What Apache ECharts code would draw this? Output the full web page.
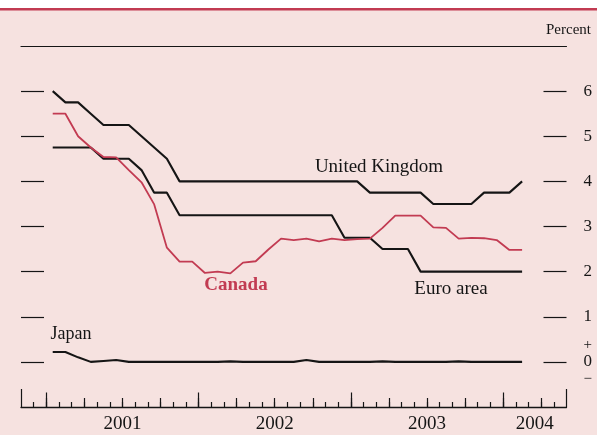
<!DOCTYPE html>
<html>
<head>
<meta charset="utf-8">
<script src="https://cdn.jsdelivr.net/npm/echarts@6/dist/echarts.min.js"></script>
<style>
  html, body { margin: 0; padding: 0; background: #f6e2e0; }
  #chart { width: 597px; height: 435px; }
</style>
</head>
<body>
<div id="chart"></div>
<script>
// Official policy rates, monthly, January 2001 – February 2004 (percent)
const firstMonth = '2001-01';
const ukRate = [
  6.0, 5.75, 5.75, 5.5, 5.25, 5.25, 5.25, 5.0, 4.75, 4.5, 4.0, 4.0,
  4.0, 4.0, 4.0, 4.0, 4.0, 4.0, 4.0, 4.0, 4.0, 4.0, 4.0, 4.0,
  4.0, 3.75, 3.75, 3.75, 3.75, 3.75, 3.5, 3.5, 3.5, 3.5, 3.75, 3.75,
  3.75, 4.0
];
const euroRate = [
  4.75, 4.75, 4.75, 4.75, 4.5, 4.5, 4.5, 4.25, 3.75, 3.75, 3.25, 3.25,
  3.25, 3.25, 3.25, 3.25, 3.25, 3.25, 3.25, 3.25, 3.25, 3.25, 3.25, 2.75,
  2.75, 2.75, 2.5, 2.5, 2.5, 2.0, 2.0, 2.0, 2.0, 2.0, 2.0, 2.0,
  2.0, 2.0
];
const canadaRate = [
  5.5, 5.5, 5.0, 4.75, 4.54, 4.53, 4.25, 3.98, 3.49, 2.53, 2.22, 2.22,
  1.97, 2.0, 1.96, 2.2, 2.23, 2.49, 2.73, 2.7, 2.73, 2.67, 2.73, 2.7,
  2.72, 2.73, 2.97, 3.24, 3.24, 3.24, 2.98, 2.97, 2.73, 2.75, 2.74, 2.7,
  2.48, 2.48
];
const japanRate = [
  0.22, 0.22, 0.1, 0.0, 0.02, 0.04, 0.0, 0.0, 0.0, 0.0, 0.0, 0.0,
  0.0, 0.0, 0.01, 0.0, 0.0, 0.0, 0.0, 0.0, 0.04, 0.0, 0.0, 0.0,
  0.0, 0.0, 0.01, 0.0, 0.0, 0.0, 0.0, 0.0, 0.01, 0.0, 0.0, 0.0,
  0.0, 0.0
];

// Axis layout in months counted from January 2001 (Nov 2000 .. end of May 2004)
const axisStart = -2;
const axisEnd = 41;
const yearLabels = ['2001', '2002', '2003', '2004'];
const yearLabelAt = [6, 18, 30, 38.5];
const yearStarts = [0, 12, 24, 36];
const percentTicks = [0, 1, 2, 3, 4, 5, 6];

const monthTicks = [];
for (let m = axisStart + 1; m < axisEnd; m++) monthTicks.push(m);
const quarterTicks = monthTicks.filter(m => ((m % 3) + 3) % 3 === 0);

// Points sit at the middle of each month
const toPoints = arr => arr.map((v, i) => [i + 0.5, v]);

const serif = '"Liberation Serif", "DejaVu Serif", serif';
const ink = '#151515';
const red = '#c23b52';

function tickAxis(values, len, withLine, labels) {
  return {
    type: 'value', position: 'bottom', min: axisStart, max: axisEnd,
    axisLine: { show: withLine, onZero: false, lineStyle: { color: ink, width: 1.3 } },
    axisTick: { show: true, inside: true, length: len, customValues: values,
                lineStyle: { color: ink, width: 1.2 } },
    axisLabel: labels ? {
      show: true, customValues: yearLabelAt, margin: 8,
      color: ink, fontFamily: serif, fontSize: 19,
      formatter: v => yearLabels[yearLabelAt.indexOf(v)]
    } : { show: false },
    splitLine: { show: false }
  };
}

const chart = echarts.init(document.getElementById('chart'));
chart.setOption({
  backgroundColor: '#f6e2e0',
  animation: false,
  grid: { left: 21, right: 30.5, top: 46, bottom: 28, containLabel: false },
  xAxis: [
    tickAxis(monthTicks, 5, true, true),
    tickAxis(quarterTicks, 9, false, false),
    tickAxis(yearStarts, 14.5, false, false),
    tickAxis([axisStart, axisEnd], 18, false, false),
    {
      type: 'value', position: 'top', min: axisStart, max: axisEnd,
      axisLine: { show: true, onZero: false, lineStyle: { color: ink, width: 1.2 } },
      axisTick: { show: false }, axisLabel: { show: false }, splitLine: { show: false }
    }
  ],
  yAxis: [
    {
      type: 'value', position: 'left', min: -1, max: 7, interval: 1,
      axisLine: { show: false, onZero: false },
      axisTick: { show: true, inside: true, length: 23, customValues: percentTicks,
                  lineStyle: { color: ink, width: 1.2 } },
      axisLabel: { show: false }, splitLine: { show: false }
    },
    {
      type: 'value', position: 'right', min: -1, max: 7, interval: 1,
      name: 'Percent', nameLocation: 'end', nameGap: 8,
      nameTextStyle: { color: ink, fontFamily: serif, fontSize: 15, align: 'center', padding: [0, 0, 0, 4] },
      axisLine: { show: false, onZero: false },
      axisTick: { show: true, inside: true, length: 23, customValues: percentTicks,
                  lineStyle: { color: ink, width: 1.2 } },
      axisLabel: {
        show: true, customValues: percentTicks, margin: 17, align: 'left',
        color: ink, fontFamily: serif, fontSize: 17,
        formatter: v => v === 0 ? '{s|+}\n0\n{s|−}' : String(v),
        rich: { s: { fontSize: 15, fontFamily: serif, color: ink, lineHeight: 17 } },
        lineHeight: 17
      },
      splitLine: { show: false }
    }
  ],
  series: [
    { name: 'United Kingdom', type: 'line', data: toPoints(ukRate), showSymbol: false,
      lineStyle: { color: ink, width: 2.1 }, z: 3 },
    { name: 'Euro area', type: 'line', data: toPoints(euroRate), showSymbol: false,
      lineStyle: { color: ink, width: 2.1 }, z: 3 },
    { name: 'Canada', type: 'line', data: toPoints(canadaRate), showSymbol: false,
      lineStyle: { color: red, width: 1.8 }, z: 4 },
    { name: 'Japan', type: 'line', data: toPoints(japanRate), showSymbol: false,
      lineStyle: { color: ink, width: 2.1 }, z: 3 }
  ],
  graphic: [
    { type: 'rect', left: 0, top: 0, shape: { width: 597, height: 8 }, style: { fill: '#ffffff' }, silent: true },
    { type: 'rect', left: 0, top: 8, shape: { width: 597, height: 2.4 }, style: { fill: red }, silent: true },
    { type: 'text', x: 379, y: 167, style: { text: 'United Kingdom', font: '19px ' + serif, fill: ink, align: 'center', verticalAlign: 'middle' } },
    { type: 'text', x: 451, y: 289, style: { text: 'Euro area', font: '19px ' + serif, fill: ink, align: 'center', verticalAlign: 'middle' } },
    { type: 'text', x: 236, y: 285, style: { text: 'Canada', font: 'bold 19px ' + serif, fill: red, align: 'center', verticalAlign: 'middle' } },
    { type: 'text', x: 71, y: 334, style: { text: 'Japan', font: '18px ' + serif, fill: ink, align: 'center', verticalAlign: 'middle' } }
  ]
});
</script>
</body>
</html>
